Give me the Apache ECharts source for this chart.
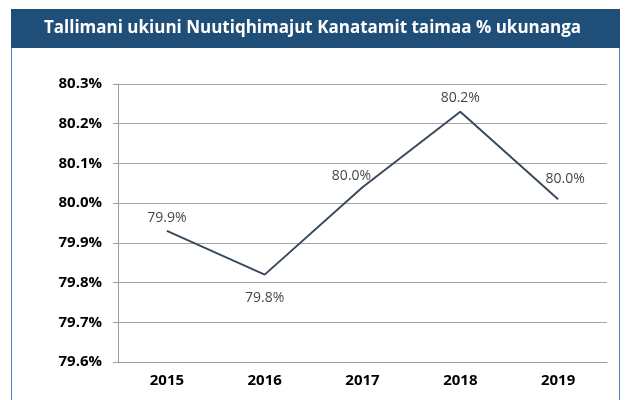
<!DOCTYPE html>
<html>
<head>
<meta charset="utf-8">
<script src="https://cdn.jsdelivr.net/npm/echarts@6/dist/echarts.min.js"></script>
<style>
  body { margin: 0; background: #fff; }
  #chart { width: 625px; height: 400px; }
</style>
</head>
<body>
<div id="chart"></div>
<script>
const title = 'Tallimani ukiuni Nuutiqhimajut Kanatamit taimaa % ukunanga';
const years = ['2015', '2016', '2017', '2018', '2019'];
const values = [79.93, 79.82, 80.04, 80.23, 80.01];
const labels = ['79.9%', '79.8%', '80.0%', '80.2%', '80.0%'];
const labelPos = ['top', 'bottom', 'top', 'top', 'top'];
const labelOffset = [[0, 0], [0, 10], [-11, 2], [0, -1], [7, -7]];

const chart = echarts.init(document.getElementById('chart'));

const option = {
  animation: false,
  title: {
    text: title,
    left: 'center',
    top: 15,
    textStyle: {
      color: '#fff',
      fontFamily: 'Open Sans',
      fontWeight: 'bold',
      fontSize: 17
    }
  },
  graphic: [
    {
      type: 'rect',
      shape: { x: 11.5, y: 9.5, width: 608, height: 400 },
      style: { fill: 'none', stroke: '#4F81BD', lineWidth: 1 },
      z: -1
    },
    {
      type: 'rect',
      shape: { x: 11, y: 9, width: 609, height: 39 },
      style: { fill: '#1F4E79' },
      z: -1
    }
  ],
  grid: { left: 118, right: 18, top: 84, bottom: 38 },
  xAxis: {
    type: 'category',
    data: years,
    boundaryGap: true,
    axisLine: { lineStyle: { color: '#9E9E9E' } },
    axisTick: { length: 5, lineStyle: { color: '#9E9E9E' } },
    axisLabel: {
      color: '#000',
      fontFamily: 'Open Sans',
      fontWeight: 'bold',
      fontSize: 15,
      margin: 11
    }
  },
  yAxis: {
    type: 'value',
    min: 79.6,
    max: 80.3,
    interval: 0.1,
    axisLine: { show: true, lineStyle: { color: '#9E9E9E' } },
    axisTick: { show: true, length: 5, lineStyle: { color: '#9E9E9E' } },
    splitLine: { lineStyle: { color: '#A6A6A6' } },
    axisLabel: {
      color: '#000',
      fontFamily: 'Open Sans',
      fontWeight: 'bold',
      fontSize: 15,
      margin: 16,
      formatter: v => v.toFixed(1) + '%'
    }
  },
  series: [
    {
      type: 'line',
      data: values,
      symbol: 'none',
      lineStyle: { color: '#3A4A5E', width: 2 }
    },
    {
      // labels only
      type: 'scatter',
      data: values.map((v, i) => ({
        value: v,
        label: { position: labelPos[i], offset: labelOffset[i] }
      })),
      symbolSize: 2,
      itemStyle: { color: 'rgba(0,0,0,0)' },
      label: {
        show: true,
        color: '#111',
        fontFamily: 'Open Sans',
        fontSize: 14,
        formatter: p => labels[p.dataIndex]
      }
    }
  ]
};

chart.setOption(option);
window.addEventListener('resize', () => {
  chart.resize();
});
</script>
</body>
</html>
